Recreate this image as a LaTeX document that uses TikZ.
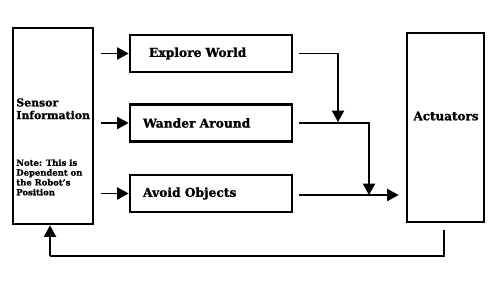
\documentclass[tikz,border=0pt]{standalone}
\usepackage{fontspec}
\setmainfont{DejaVu Serif}[BoldFeatures={FakeBold=1.2}]
\usetikzlibrary{arrows.meta}

\tikzset{
  block/.style={rectangle, draw, line width=1.6pt, inner sep=0pt},
  behave/.style={block, minimum width=3.24cm, minimum height=0.74cm,
    text width=2.72cm, align=left, font=\fontsize{7}{8}\selectfont\bfseries},
  flow/.style={line width=0.6pt, -{Triangle[length=6.5pt,width=7pt]}},
  plain/.style={line width=0.6pt}
}

\begin{document}
\begin{tikzpicture}[x=0.02cm, y=-0.02cm]
\useasboundingbox (0,0) rectangle (500,281);

% outer blocks
\node[block, minimum width=1.6cm, minimum height=3.92cm] (sensor) at (53,126) {};
\node[block, minimum width=1.54cm, minimum height=3.78cm] (actuators) at (445.5,127.5) {};

\node[anchor=north west, align=left, inner sep=0pt,
  font=\fontsize{6.2}{7.2}\selectfont\bfseries] (sensortext) at (16,98)
  {Sensor\\Information};
\node[anchor=north west, align=left, inner sep=0pt,
  font=\fontsize{4.8}{5.6}\selectfont\bfseries] (notetext) at (16,159)
  {Note: This is\\Dependent on\\the Robot's\\Position};
\node[inner sep=0pt, font=\fontsize{6.8}{7.8}\selectfont\bfseries] (acttext) at (446,116) {Actuators};

% behaviours
\node[behave] (explore) at (211,53.5) {\hspace{0.12cm}Explore World};
\node[behave] (wander) at (211,123) {Wander Around};
\node[behave] (avoid) at (211,193.5) {Avoid Objects};

% junctions
\coordinate (j1) at (338,122);
\coordinate (j2) at (369,195);
\coordinate (fb) at (50,256);

% sensor to behaviours
\foreach \b in {explore,wander,avoid}
  \draw[flow, shorten <=4pt] (sensor.east |- \b) -- (\b.west);

% behaviours to actuators
\draw[flow, shorten <=3pt] (explore.east) -| (j1);
\draw[flow, shorten <=3pt] (wander.east) -| (j2);
\draw[flow, shorten <=3pt, shorten >=4pt] (avoid.east |- j2) -- (actuators.west |- j2);

% feedback
\draw[plain, shorten <=3.5pt] (actuators.south -| 444,0) |- (fb);
\draw[flow] (fb) -- (fb |- sensor.south);
\end{tikzpicture}
\end{document}
